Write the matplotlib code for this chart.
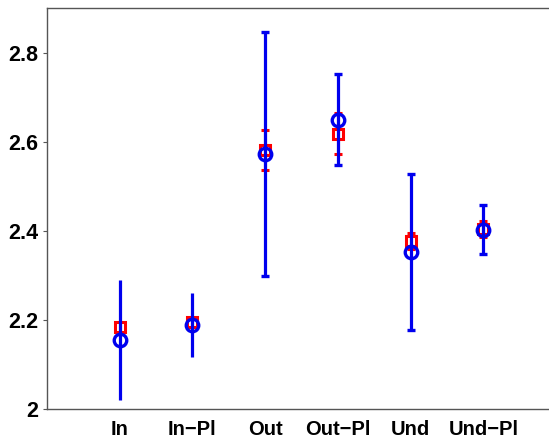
import matplotlib.pyplot as plt
import numpy as np

plt.rcParams["font.family"] = ["Liberation Sans", "DejaVu Sans"]
plt.rcParams["font.weight"] = "bold"

labels = ["In", "In\u2212Pl", "Out", "Out\u2212Pl", "Und", "Und\u2212Pl"]

# model estimate (red squares) and its spread
model_mean = [2.183, 2.196, 2.582, 2.618, 2.378, 2.404]
model_err = [0.010, 0.008, 0.045, 0.046, 0.018, 0.018]

# measured mean (blue circles) and its spread
meas_mean = [2.155, 2.189, 2.572, 2.649, 2.352, 2.402]
meas_err = [0.135, 0.072, 0.274, 0.102, 0.175, 0.055]

# the first two groups are drawn without caps
capped = [False, False, True, True, True, True]

x = np.arange(1, len(labels) + 1)

fig = plt.figure(figsize=(5.49, 4.38), dpi=100)
ax = fig.add_axes([47 / 549, 29 / 438, 520 / 549, 401 / 438])

for xi, m, e, c in zip(x, model_mean, model_err, capped):
    ax.errorbar(xi, m, yerr=e, fmt="s", color="#ff0000",
                mfc="none", mec="#ff0000", ms=6.5, mew=2.2, elinewidth=2.2,
                capsize=3 if c else 0, capthick=2.2, zorder=2)
for xi, m, e, c in zip(x, meas_mean, meas_err, capped):
    ax.errorbar(xi, m, yerr=e, fmt="o", color="#0000ee",
                mfc="none", mec="#0000ee", ms=9, mew=2.4, elinewidth=2.3,
                capsize=3 if c else 0, capthick=2.3, zorder=3)

ax.set_xlim(0, 520 / 509 * 7)
ax.set_ylim(2, 2.9)
ax.set_xticks(x)
ax.set_xticklabels(labels, fontsize=14.5, fontweight="bold")
ax.set_yticks([2, 2.2, 2.4, 2.6, 2.8])
ax.set_yticklabels(["2", "2.2", "2.4", "2.6", "2.8"], fontsize=15.5, fontweight="bold")
ax.tick_params(axis="x", length=0, pad=8)
ax.tick_params(axis="y", direction="out", length=3, width=0.8, pad=3,
               color="#555555")
ax.spines["right"].set_visible(False)
for s in ("left", "top", "bottom"):
    ax.spines[s].set_color("#555555")
    ax.spines[s].set_linewidth(1.0)

fig.savefig("out.png", dpi=100)
